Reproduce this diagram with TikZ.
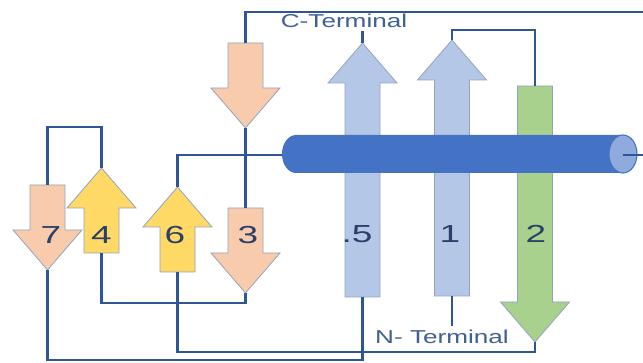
\documentclass[tikz,border=0pt]{standalone}
\usepackage{fontspec}
\setmainfont{Liberation Sans}
\usetikzlibrary{calc}

\definecolor{peach}{HTML}{F8CBAD}
\definecolor{sun}{HTML}{FFD966}
\definecolor{sky}{HTML}{B4C7E7}
\definecolor{leaf}{HTML}{A9D18E}
\definecolor{wireblue}{HTML}{2F5597}
\definecolor{membrane}{HTML}{4472C4}
\definecolor{memend}{HTML}{8FAADC}
\definecolor{edgegray}{HTML}{93A3BD}
\definecolor{numblue}{HTML}{2B3F6B}
\definecolor{termblue}{HTML}{3F5F95}

\def\widen#1{\scalebox{1.4}[1]{#1}}
\def\widenum#1{\scalebox{1.5}[1]{#1}}

\tikzset{
  wire/.style={draw=wireblue, line width=2pt},
  protedge/.style={draw=edgegray, line width=0.6pt},
  num/.style={text=numblue, font=\fontsize{18.5}{20}\selectfont, inner sep=0pt},
  term/.style={text=termblue, font=\fontsize{14}{16}\selectfont, inner sep=0pt},
  pics/protarrow/.style 2 args={code={
    \filldraw[protedge, fill=#2] (0,0) -- (34.5,40) -- (17.5,40) -- (17.5,#1)
      -- (-17.5,#1) -- (-17.5,40) -- (-34.5,40) -- cycle;
    \coordinate (-tip) at (0,0);
    \coordinate (-tail) at (0,#1);
  }}
}

\begin{document}
\begin{tikzpicture}[x=0.75pt, y=-0.75pt]
\useasboundingbox (0,0) rectangle (643,363);

% segments, tip given first
\pic[rotate=180] (top) at (245.5,128) {protarrow={85}{peach}};
\pic[rotate=180] (a3) at (245.5,293) {protarrow={85}{peach}};
\pic[rotate=180] (a7) at (47.5,270) {protarrow={85}{peach}};
\pic (a4) at (101.5,168) {protarrow={85}{sun}};
\pic (a6) at (177.5,187) {protarrow={85}{sun}};
\pic (a5) at (362.5,43) {protarrow={254}{sky}};
\pic (a1) at (452,40) {protarrow={256}{sky}};
\pic[rotate=180] (a2) at (535,342) {protarrow={256}{leaf}};

% membrane
\fill[membrane] (623,135) -- (296,135)
  arc[start angle=270, end angle=90, x radius=14, y radius=19] -- (623,173) -- cycle;
\filldraw[fill=memend, draw=membrane, line width=0.8pt] (623,154) ellipse [x radius=14, y radius=19];
\coordinate (memL) at (282,155);
\coordinate (memC) at (623,155);
\coordinate (memR) at (643,155);
\coordinate (topR) at (643,12);

\node[term] (cterm) at (344,21) {\widen{C-Terminal}};
\node[term] (nterm) at (442,337) {\widen{N- Terminal}};

% loops
\draw[wire] (top-tail) |- (topR);
\draw[wire] (top-tip) -- (a3-tail);
\draw[wire] (a6-tip) |- (memL);
\draw[wire] (a7-tail) -- ++(0,-58) -| (a4-tip);
\draw[wire] (a4-tail) -- ++(0,50) -| (a3-tip);
\draw[wire] (a6-tail) -- ++(0,80) -| (a2-tip);
\draw[wire] (a7-tip) -- ++(0,90) -| (a5-tail);
\draw[wire] (a1-tip) -- ++(0,-10) -| (a2-tail);
\draw[wire] (a1-tail) -- ++(0,30);
\draw[wire] (a5-tip) -- ++(0,-12);
\draw[wire] (memC) -- (memR);

\node[num] (n7) at (51,235) {\widenum{7}};
\node[num] (n4) at (101.5,235) {\widenum{4}};
\node[num] (n6) at (175,235) {\widenum{6}};
\node[num] (n3) at (248,235) {\widenum{3}};
\node[num] (n5) at (357,234) {\widenum{.5}};
\node[num] (n1) at (450,234) {\widenum{1}};
\node[num] (n2) at (536,234) {\widenum{2}};

\end{tikzpicture}
\end{document}
